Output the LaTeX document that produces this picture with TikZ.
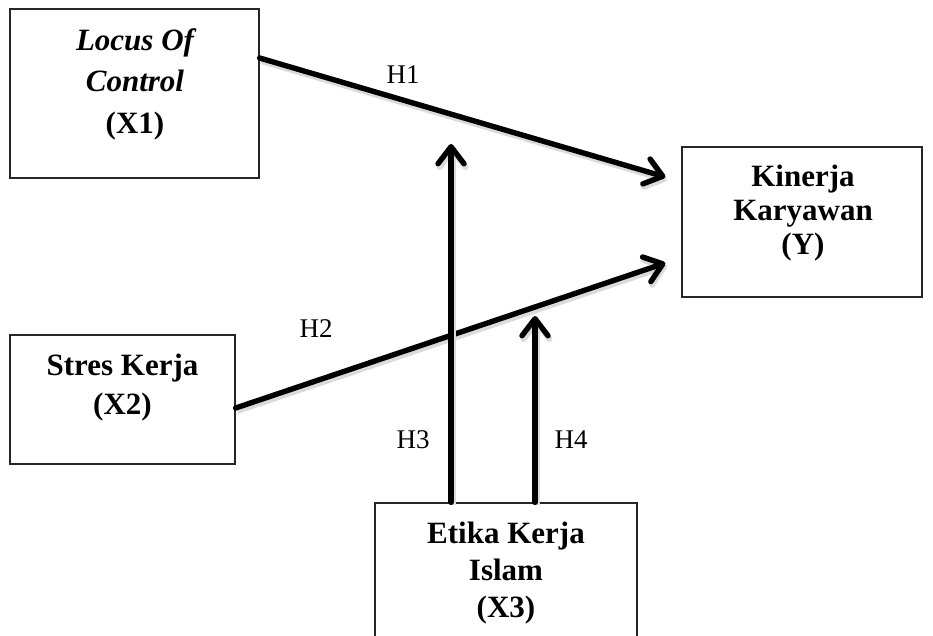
\documentclass[tikz,border=0pt]{standalone}
\usepackage{fontspec}
\setmainfont{Liberation Serif}
\usetikzlibrary{arrows.meta}
\tikzset{
  box/.style={draw=black!85, line width=1.3pt, rectangle, inner sep=0pt},
  boxtext/.style={align=center, inner sep=0pt, anchor=base, font=\bfseries\fontsize{31}{#1}\selectfont},
  hlabel/.style={inner sep=0pt, anchor=base, font=\fontsize{27}{30}\selectfont},
  conn/.style={line width=5.4pt, line cap=round, line join=round,
    -{Straight Barb[length=17pt,width=26pt,line cap=round,line join=round]},
    preaction={draw=black!14, line width=6pt, transform canvas={xshift=1.5pt,yshift=-3pt}}}
}
\begin{document}
\begin{tikzpicture}[x=1pt,y=-1pt]
\clip (0,0) rectangle (933,635);
% boxes
\node[box, minimum width=249pt, minimum height=169pt] (x1) at (134.5,93.5) {};
\node[box, minimum width=240pt, minimum height=150pt] (y) at (802,222) {};
\node[box, minimum width=225pt, minimum height=129pt] (x2) at (122.5,399.5) {};
\node[box, minimum width=262pt, minimum height=150pt] (x3) at (506,578) {};
% texts (anchor=base is the baseline of the last line)
\node[boxtext=41.5] (x1t) at (135,133) {\itshape Locus Of\\\itshape Control\\(X1)};
\node[boxtext=34] (yt) at (803,254) {Kinerja\\Karyawan\\(Y)};
\node[boxtext=39] (x2t) at (122.5,414) {Stres Kerja\\(X2)};
\node[boxtext=37] (x3t) at (506,617) {Etika Kerja\\Islam\\(X3)};
% free ends
\coordinate (h3tip) at (451,144);
\coordinate (h4tip) at (535,316);
% connectors
\draw[conn] ([yshift=35.5pt]x1.east) -- ([xshift=-16pt,yshift=45pt]y.west);
\draw[conn] ([yshift=-8.5pt]x2.east) -- ([xshift=-16pt,yshift=-41pt]y.west);
\draw[conn] (x3.north -| h3tip) -- (h3tip);
\draw[conn] (x3.north -| h4tip) -- (h4tip);
% labels
\node[hlabel] (h1) at (403,83) {H1};
\node[hlabel] (h2) at (316,337) {H2};
\node[hlabel] (h3) at (413,448) {H3};
\node[hlabel] (h4) at (571,448) {H4};
\end{tikzpicture}
\end{document}
